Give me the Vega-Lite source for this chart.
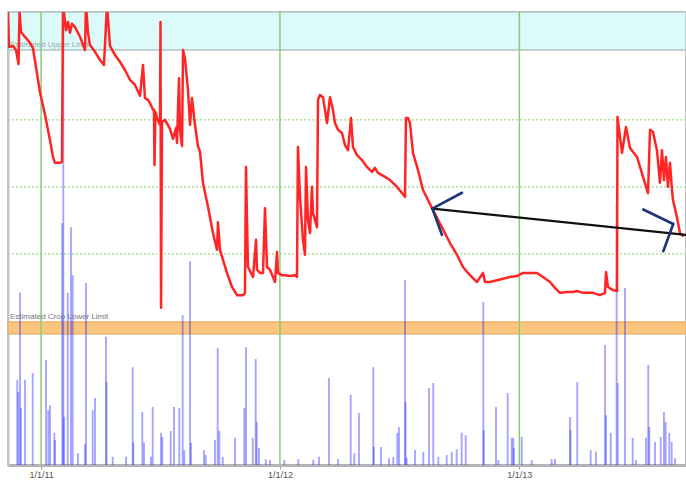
{
  "$schema": "https://vega.github.io/schema/vega-lite/v6.json",
  "width": 678,
  "height": 453,
  "autosize": {"type": "none"},
  "padding": {"left": 8, "top": 12, "right": 0, "bottom": 17},
  "background": "white",
  "config": {"view": {"stroke": "#c4c4c4", "strokeWidth": 2}, "font": "Liberation Sans"},
  "datasets": {
    "bands": [{"band": "Estimated Upper Limit", "lo": 91.6, "hi": 100}, {"band": "Estimated Crop Lower Limit", "lo": 28.9, "hi": 31.6}],
    "hgrid": [{"m": 46.6}, {"m": 61.4}, {"m": 76.2}],
    "vgrid": [{"day": 0}, {"day": 365}, {"day": 731}],
    "labels": [{"day": -47.5, "m": 92.2, "label": "Estimated Upper Limit", "kind": "upper"}, {"day": -47.5, "m": 32.3, "label": "Estimated Crop Lower Limit", "kind": "lower"}],
    "rain": [
      {"day": -36.4, "rain": 18.8}, {"day": -34.8, "rain": 16.1}, {"day": -32.2, "rain": 38.0}, {"day": -30.7, "rain": 12.6},
      {"day": -24.6, "rain": 18.8}, {"day": -12.8, "rain": 20.3}, {"day": 7.5, "rain": 23.2}, {"day": 11.0, "rain": 12.1},
      {"day": 13.6, "rain": 13.2}, {"day": 20.2, "rain": 7.1}, {"day": 21.2, "rain": 5.5}, {"day": 32.4, "rain": 53.4},
      {"day": 33.9, "rain": 105}, {"day": 35.0, "rain": 10.6}, {"day": 40.7, "rain": 38.0}, {"day": 45.7, "rain": 52.5},
      {"day": 48.3, "rain": 41.9}, {"day": 56.4, "rain": 2.6}, {"day": 67.1, "rain": 4.6}, {"day": 68.6, "rain": 40.2},
      {"day": 78.9, "rain": 12.1}, {"day": 82.4, "rain": 14.8}, {"day": 99.2, "rain": 28.3}, {"day": 100.0, "rain": 18.3},
      {"day": 109.4, "rain": 1.8}, {"day": 129.8, "rain": 1.8}, {"day": 140.0, "rain": 21.6}, {"day": 140.9, "rain": 4.9},
      {"day": 154.7, "rain": 11.7}, {"day": 157.3, "rain": 4.9}, {"day": 168.0, "rain": 1.8}, {"day": 170.6, "rain": 12.8},
      {"day": 183.3, "rain": 7.1}, {"day": 185.2, "rain": 6.2}, {"day": 198.1, "rain": 7.5}, {"day": 203.1, "rain": 12.8},
      {"day": 211.2, "rain": 12.6}, {"day": 216.4, "rain": 33.1}, {"day": 218.9, "rain": 3.3}, {"day": 227.6, "rain": 45.0},
      {"day": 229.1, "rain": 4.9}, {"day": 249.0, "rain": 3.3}, {"day": 251.6, "rain": 2.2}, {"day": 265.8, "rain": 5.5},
      {"day": 269.9, "rain": 25.8}, {"day": 272.4, "rain": 7.5}, {"day": 277.6, "rain": 1.8}, {"day": 296.4, "rain": 6.0},
      {"day": 310.6, "rain": 12.6}, {"day": 313.2, "rain": 26.0}, {"day": 323.4, "rain": 6.0}, {"day": 328.0, "rain": 23.4},
      {"day": 329.5, "rain": 9.5}, {"day": 333.0, "rain": 3.8}, {"day": 343.3, "rain": 1.3}, {"day": 349.8, "rain": 1.1},
      {"day": 371.7, "rain": 1.1}, {"day": 393.1, "rain": 1.3}, {"day": 416.0, "rain": 1.1}, {"day": 424.7, "rain": 1.8},
      {"day": 440.0, "rain": 19.2}, {"day": 453.8, "rain": 1.3}, {"day": 473.2, "rain": 15.5}, {"day": 478.7, "rain": 2.6},
      {"day": 485.9, "rain": 11.5}, {"day": 507.7, "rain": 21.6}, {"day": 508.5, "rain": 4.0}, {"day": 519.5, "rain": 4.0},
      {"day": 531.7, "rain": 1.5}, {"day": 538.3, "rain": 1.8}, {"day": 544.4, "rain": 7.1}, {"day": 547.0, "rain": 8.4},
      {"day": 556.2, "rain": 40.8}, {"day": 557.0, "rain": 13.9}, {"day": 558.8, "rain": 1.5}, {"day": 571.5, "rain": 3.3},
      {"day": 584.2, "rain": 2.9}, {"day": 592.9, "rain": 17.0}, {"day": 599.4, "rain": 18.1}, {"day": 607.1, "rain": 1.8},
      {"day": 619.9, "rain": 2.2}, {"day": 627.6, "rain": 2.9}, {"day": 635.2, "rain": 3.5}, {"day": 642.8, "rain": 7.1},
      {"day": 649.0, "rain": 6.6}, {"day": 675.9, "rain": 36.0}, {"day": 676.6, "rain": 7.7}, {"day": 695.3, "rain": 12.8},
      {"day": 698.8, "rain": 1.1}, {"day": 713.1, "rain": 15.9}, {"day": 719.3, "rain": 6.0}, {"day": 721.7, "rain": 6.0},
      {"day": 722.5, "rain": 3.8}, {"day": 734.6, "rain": 6.2}, {"day": 749.8, "rain": 1.1}, {"day": 780.4, "rain": 1.3},
      {"day": 785.4, "rain": 1.3}, {"day": 808.4, "rain": 10.6}, {"day": 809.1, "rain": 7.7}, {"day": 819.5, "rain": 18.3},
      {"day": 840.0, "rain": 3.3}, {"day": 848.1, "rain": 2.9}, {"day": 861.9, "rain": 26.5}, {"day": 863.4, "rain": 11.0},
      {"day": 870.6, "rain": 7.1}, {"day": 879.7, "rain": 57.8}, {"day": 881.3, "rain": 18.1}, {"day": 892.4, "rain": 39.1},
      {"day": 904.2, "rain": 6.0}, {"day": 909.2, "rain": 1.1}, {"day": 924.5, "rain": 6.0}, {"day": 928.0, "rain": 22.1},
      {"day": 929.6, "rain": 8.4}, {"day": 938.3, "rain": 5.1}, {"day": 947.0, "rain": 6.2}, {"day": 952.0, "rain": 11.7},
      {"day": 954.6, "rain": 9.5}, {"day": 960.1, "rain": 7.1}, {"day": 963.8, "rain": 5.1}, {"day": 968.9, "rain": 1.5}
    ],
    "moisture": [
      {"day": -50.6, "m": 100.4}, {"day": -49.1, "m": 92.3}, {"day": -42.9, "m": 92.5}, {"day": -38.4, "m": 91.6},
      {"day": -34.5, "m": 88.5}, {"day": -33.0, "m": 100.0}, {"day": -30.7, "m": 95.6}, {"day": -24.6, "m": 94.5},
      {"day": -17.0, "m": 93.2}, {"day": -12.4, "m": 92.0}, {"day": -1.7, "m": 82.3}, {"day": 6.0, "m": 77.3},
      {"day": 13.6, "m": 71.7}, {"day": 18.2, "m": 68.0}, {"day": 21.2, "m": 66.7}, {"day": 28.9, "m": 66.7},
      {"day": 31.9, "m": 66.9}, {"day": 33.5, "m": 101.5}, {"day": 38.1, "m": 96.0}, {"day": 41.1, "m": 97.8},
      {"day": 44.2, "m": 95.4}, {"day": 47.2, "m": 97.4}, {"day": 51.8, "m": 96.7}, {"day": 59.5, "m": 94.5},
      {"day": 67.1, "m": 91.6}, {"day": 68.6, "m": 101.5}, {"day": 71.7, "m": 95.4}, {"day": 74.7, "m": 92.7},
      {"day": 82.4, "m": 91.2}, {"day": 90.0, "m": 89.4}, {"day": 96.1, "m": 88.3}, {"day": 100.7, "m": 101.5},
      {"day": 105.3, "m": 92.5}, {"day": 112.9, "m": 90.5}, {"day": 120.6, "m": 89.0}, {"day": 128.2, "m": 87.2},
      {"day": 135.9, "m": 85.0}, {"day": 143.5, "m": 83.9}, {"day": 151.2, "m": 81.5}, {"day": 155.7, "m": 88.3},
      {"day": 158.8, "m": 81.0}, {"day": 163.4, "m": 80.6}, {"day": 166.4, "m": 79.9}, {"day": 171.0, "m": 78.4},
      {"day": 172.6, "m": 78.4}, {"day": 173.3, "m": 66.2}, {"day": 174.8, "m": 77.9}, {"day": 177.1, "m": 76.6},
      {"day": 181.7, "m": 75.1}, {"day": 182.5, "m": 97.8}, {"day": 183.3, "m": 34.7}, {"day": 184.8, "m": 75.7},
      {"day": 189.4, "m": 76.2}, {"day": 197.0, "m": 74.2}, {"day": 201.6, "m": 72.0}, {"day": 206.2, "m": 74.4},
      {"day": 207.7, "m": 71.1}, {"day": 210.8, "m": 85.4}, {"day": 212.3, "m": 74.0}, {"day": 215.4, "m": 70.4},
      {"day": 216.9, "m": 91.6}, {"day": 219.9, "m": 89.8}, {"day": 224.5, "m": 82.8}, {"day": 227.6, "m": 75.1},
      {"day": 230.6, "m": 81.0}, {"day": 235.2, "m": 75.1}, {"day": 239.8, "m": 70.4}, {"day": 242.9, "m": 69.1},
      {"day": 247.4, "m": 62.3}, {"day": 255.1, "m": 57.0}, {"day": 262.7, "m": 51.2}, {"day": 268.8, "m": 47.5},
      {"day": 270.4, "m": 53.6}, {"day": 273.4, "m": 47.5}, {"day": 278.0, "m": 45.3}, {"day": 284.1, "m": 42.4},
      {"day": 291.8, "m": 39.3}, {"day": 299.4, "m": 37.5}, {"day": 308.6, "m": 37.5}, {"day": 311.6, "m": 38.0},
      {"day": 313.2, "m": 65.8}, {"day": 314.7, "m": 54.1}, {"day": 316.2, "m": 43.7}, {"day": 323.9, "m": 41.5},
      {"day": 328.5, "m": 49.7}, {"day": 330.0, "m": 43.1}, {"day": 334.6, "m": 42.4}, {"day": 339.2, "m": 42.4},
      {"day": 342.2, "m": 56.7}, {"day": 345.3, "m": 43.7}, {"day": 349.8, "m": 43.1}, {"day": 354.4, "m": 41.5},
      {"day": 357.5, "m": 40.4}, {"day": 360.6, "m": 47.0}, {"day": 362.1, "m": 42.4}, {"day": 368.2, "m": 41.9},
      {"day": 372.8, "m": 41.9}, {"day": 380.4, "m": 41.7}, {"day": 388.1, "m": 41.9}, {"day": 391.1, "m": 41.5},
      {"day": 392.6, "m": 70.2}, {"day": 395.7, "m": 59.2}, {"day": 400.3, "m": 49.7}, {"day": 403.3, "m": 46.4},
      {"day": 404.9, "m": 65.8}, {"day": 407.9, "m": 54.1}, {"day": 411.0, "m": 51.2}, {"day": 414.0, "m": 61.4},
      {"day": 415.6, "m": 55.6}, {"day": 418.6, "m": 54.1}, {"day": 421.7, "m": 52.5}, {"day": 423.2, "m": 80.6},
      {"day": 426.3, "m": 81.7}, {"day": 430.9, "m": 81.2}, {"day": 433.9, "m": 78.4}, {"day": 437.0, "m": 75.5},
      {"day": 441.6, "m": 81.2}, {"day": 446.1, "m": 78.4}, {"day": 449.2, "m": 75.5}, {"day": 453.8, "m": 74.0},
      {"day": 459.9, "m": 73.3}, {"day": 464.5, "m": 70.6}, {"day": 469.1, "m": 69.5}, {"day": 473.7, "m": 76.6},
      {"day": 476.7, "m": 70.2}, {"day": 482.8, "m": 68.4}, {"day": 490.5, "m": 67.3}, {"day": 498.1, "m": 65.8},
      {"day": 505.7, "m": 64.7}, {"day": 510.3, "m": 65.6}, {"day": 514.9, "m": 64.5}, {"day": 525.6, "m": 63.6},
      {"day": 533.3, "m": 62.9}, {"day": 544.0, "m": 61.4}, {"day": 556.2, "m": 59.2}, {"day": 557.7, "m": 76.6},
      {"day": 560.8, "m": 76.6}, {"day": 563.8, "m": 75.5}, {"day": 568.4, "m": 68.9}, {"day": 576.1, "m": 65.1},
      {"day": 583.7, "m": 60.7}, {"day": 597.5, "m": 56.7}, {"day": 625.0, "m": 49.0}, {"day": 635.7, "m": 46.4},
      {"day": 644.8, "m": 43.7}, {"day": 655.5, "m": 41.9}, {"day": 666.2, "m": 40.4}, {"day": 675.4, "m": 42.4},
      {"day": 678.5, "m": 40.4}, {"day": 686.1, "m": 40.4}, {"day": 696.8, "m": 40.8}, {"day": 706.0, "m": 41.1},
      {"day": 716.7, "m": 41.5}, {"day": 727.4, "m": 41.7}, {"day": 736.5, "m": 42.4}, {"day": 747.2, "m": 42.4},
      {"day": 757.9, "m": 42.4}, {"day": 767.1, "m": 41.5}, {"day": 777.8, "m": 40.4}, {"day": 785.4, "m": 39.1},
      {"day": 793.1, "m": 38.0}, {"day": 803.8, "m": 38.2}, {"day": 812.9, "m": 38.2}, {"day": 819.1, "m": 38.4},
      {"day": 828.2, "m": 38.0}, {"day": 843.5, "m": 38.0}, {"day": 854.2, "m": 37.5}, {"day": 861.9, "m": 38.0},
      {"day": 863.4, "m": 42.6}, {"day": 866.4, "m": 39.3}, {"day": 874.1, "m": 38.6}, {"day": 880.2, "m": 38.4},
      {"day": 881.0, "m": 76.8}, {"day": 887.9, "m": 68.9}, {"day": 894.0, "m": 74.6}, {"day": 900.1, "m": 70.0},
      {"day": 910.8, "m": 68.0}, {"day": 920.0, "m": 63.6}, {"day": 927.6, "m": 60.0}, {"day": 930.7, "m": 74.0},
      {"day": 935.2, "m": 73.5}, {"day": 941.3, "m": 69.5}, {"day": 945.9, "m": 62.3}, {"day": 949.0, "m": 69.5},
      {"day": 952.0, "m": 62.9}, {"day": 955.1, "m": 68.0}, {"day": 958.1, "m": 61.4}, {"day": 961.2, "m": 66.7},
      {"day": 964.3, "m": 60.7}, {"day": 965.8, "m": 58.5}, {"day": 971.9, "m": 54.7}, {"day": 976.5, "m": 51.2},
      {"day": 981.1, "m": 50.6}
    ],
    "pointer": [{"d1": 598.0, "m1": 56.6, "d2": 986.0, "m2": 50.8}],
    "heads": [
      {"d1": 598.0, "m1": 56.6, "d2": 643.3, "m2": 60.1},
      {"d1": 598.0, "m1": 56.6, "d2": 612.7, "m2": 50.8},
      {"d1": 920.4, "m1": 56.4, "d2": 966.2, "m2": 53.2},
      {"d1": 966.2, "m1": 53.2, "d2": 951.0, "m2": 47.2}
    ]
  },
  "layer": [
    {
      "data": {"name": "bands"},
      "transform": [{"filter": "datum.lo > 50"}],
      "mark": {"type": "rect", "color": "#dcfafa", "stroke": "#b4c4c4", "strokeWidth": 1.5},
      "encoding": {
        "x": {"datum": -50.6, "type": "quantitative", "scale": {"domain": [-50.6, 985.7], "nice": false, "zero": false},
          "axis": {"values": [0, 365, 731], "labelExpr": "datum.value == 0 ? '1/1/11' : datum.value == 365 ? '1/1/12' : '1/1/13'", "title": null, "grid": false, "domainColor": "#b4b4b4", "domainWidth": 3, "tickColor": "#9a9a9a", "tickSize": 4, "labelFontSize": 9, "labelColor": "#555555", "labelFont": "Liberation Sans", "labelPadding": 1}},
        "x2": {"datum": 985.7},
        "y": {"field": "lo", "type": "quantitative", "scale": {"domain": [0, 100], "nice": false, "zero": false},
          "axis": {"title": null, "labels": false, "ticks": false, "grid": false, "domainColor": "#c4c4c4", "domainWidth": 2}},
        "y2": {"field": "hi"}
      }
    },
    {
      "data": {"name": "bands"},
      "transform": [{"filter": "datum.lo < 50"}],
      "mark": {"type": "rect", "color": "#fbc57d", "stroke": "#e0aa62", "strokeWidth": 1},
      "encoding": {
        "x": {"datum": -50.6, "type": "quantitative", "scale": {"domain": [-50.6, 985.7], "nice": false, "zero": false}},
        "x2": {"datum": 985.7},
        "y": {"field": "lo", "type": "quantitative", "scale": {"domain": [0, 100], "nice": false, "zero": false}},
        "y2": {"field": "hi"}
      }
    },
    {
      "data": {"name": "hgrid"},
      "mark": {"type": "rule", "color": "#9edc88", "strokeWidth": 1.2, "strokeDash": [2, 2]},
      "encoding": {
        "y": {"field": "m", "type": "quantitative", "scale": {"domain": [0, 100], "nice": false, "zero": false}}
      }
    },
    {
      "data": {"name": "vgrid"},
      "mark": {"type": "rule", "color": "#88cc78", "strokeWidth": 1.5},
      "encoding": {
        "x": {"field": "day", "type": "quantitative", "scale": {"domain": [-50.6, 985.7], "nice": false, "zero": false}}
      }
    },
    {
      "data": {"name": "rain"},
      "mark": {"type": "rule", "color": "#2a2aff", "opacity": 0.42, "strokeWidth": 1.9, "clip": true},
      "encoding": {
        "x": {"field": "day", "type": "quantitative", "scale": {"domain": [-50.6, 985.7], "nice": false, "zero": false}},
        "y": {"field": "rain", "type": "quantitative", "scale": {"domain": [0, 100], "nice": false, "zero": false}},
        "y2": {"datum": 0}
      }
    },
    {
      "data": {"name": "labels"},
      "mark": {"type": "text", "align": "left", "baseline": "alphabetic", "fontSize": 8, "font": "Liberation Sans"},
      "encoding": {
        "x": {"field": "day", "type": "quantitative", "scale": {"domain": [-50.6, 985.7], "nice": false, "zero": false}},
        "y": {"field": "m", "type": "quantitative", "scale": {"domain": [0, 100], "nice": false, "zero": false}},
        "text": {"field": "label"},
        "color": {"field": "kind", "type": "nominal", "scale": {"domain": ["upper", "lower"], "range": ["#9aabab", "#777777"]}, "legend": null}
      }
    },
    {
      "data": {"name": "moisture"},
      "mark": {"type": "line", "color": "#ff2525", "strokeWidth": 2.5, "strokeJoin": "round", "strokeCap": "round", "clip": true},
      "encoding": {
        "x": {"field": "day", "type": "quantitative", "scale": {"domain": [-50.6, 985.7], "nice": false, "zero": false}},
        "y": {"field": "m", "type": "quantitative", "scale": {"domain": [0, 100], "nice": false, "zero": false}}
      }
    },
    {
      "data": {"name": "pointer"},
      "mark": {"type": "rule", "color": "#111111", "strokeWidth": 2.2, "clip": true},
      "encoding": {
        "x": {"field": "d1", "type": "quantitative", "scale": {"domain": [-50.6, 985.7], "nice": false, "zero": false}},
        "x2": {"field": "d2"},
        "y": {"field": "m1", "type": "quantitative", "scale": {"domain": [0, 100], "nice": false, "zero": false}},
        "y2": {"field": "m2"}
      }
    },
    {
      "data": {"name": "heads"},
      "mark": {"type": "rule", "color": "#1b3575", "strokeWidth": 2.6, "strokeCap": "round"},
      "encoding": {
        "x": {"field": "d1", "type": "quantitative", "scale": {"domain": [-50.6, 985.7], "nice": false, "zero": false}},
        "x2": {"field": "d2"},
        "y": {"field": "m1", "type": "quantitative", "scale": {"domain": [0, 100], "nice": false, "zero": false}},
        "y2": {"field": "m2"}
      }
    }
  ]
}
